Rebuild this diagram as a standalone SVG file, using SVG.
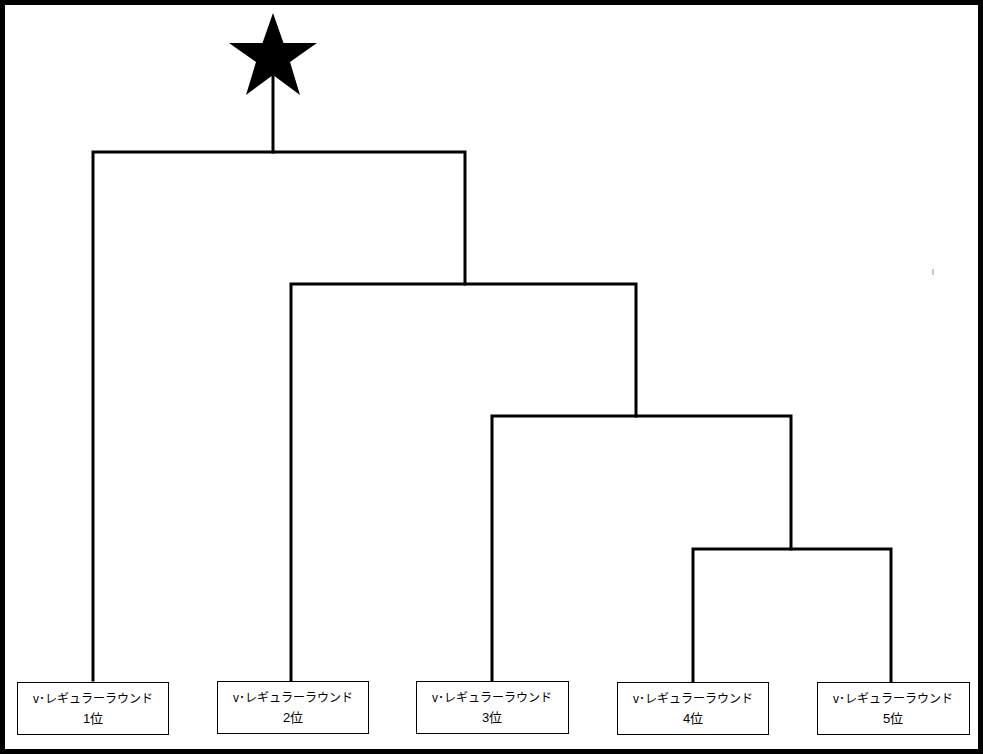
<svg xmlns="http://www.w3.org/2000/svg" width="983" height="754" viewBox="0 0 983 754">
<style>
.ln{stroke:#000;stroke-width:3;fill:none;stroke-linecap:square}
.box{fill:#fff;stroke:#000;stroke-width:1}
.t{font-family:"Liberation Sans","Noto Sans CJK JP",sans-serif;font-size:12px;fill:#000;text-anchor:middle}
.t2{font-size:13px}
</style>
<rect x="0" y="0" width="983" height="754" fill="#fff"/>
<rect x="2.5" y="2.5" width="978" height="749" fill="none" stroke="#000" stroke-width="5"/>
<g id="star"><polygon points="273,13 283.5,43 317,43 290,62 300,95 273,75 246,95 256,62 229,43 262.5,43" fill="#000"/></g>
<line x1="933" y1="269" x2="933" y2="275" stroke="#888" stroke-width="1"/>
<g id="connectors">
<path class="ln" d="M273,75 V152"/>
<path class="ln" d="M93,680 V152 H465 V284"/>
<path class="ln" d="M291,680 V284 H636 V416"/>
<path class="ln" d="M492,680 V416 H791 V549"/>
<path class="ln" d="M693,682 V549 H891 V682"/>
</g>
<g id="n1"><rect class="box" x="17.5" y="682.5" width="151" height="52"/><text class="t" x="93" y="703">v･レギュラーラウンド</text><text class="t t2" x="93" y="723">1位</text></g>
<g id="n2"><rect class="box" x="217.5" y="681.5" width="151" height="52"/><text class="t" x="293" y="702">v･レギュラーラウンド</text><text class="t t2" x="293" y="722">2位</text></g>
<g id="n3"><rect class="box" x="416.5" y="681.5" width="152" height="52"/><text class="t" x="492" y="702">v･レギュラーラウンド</text><text class="t t2" x="492" y="722">3位</text></g>
<g id="n4"><rect class="box" x="617.5" y="682.5" width="151" height="52"/><text class="t" x="693" y="703">v･レギュラーラウンド</text><text class="t t2" x="693" y="723">4位</text></g>
<g id="n5"><rect class="box" x="817.5" y="682.5" width="152" height="52"/><text class="t" x="893" y="703">v･レギュラーラウンド</text><text class="t t2" x="893" y="723">5位</text></g>
</svg>
